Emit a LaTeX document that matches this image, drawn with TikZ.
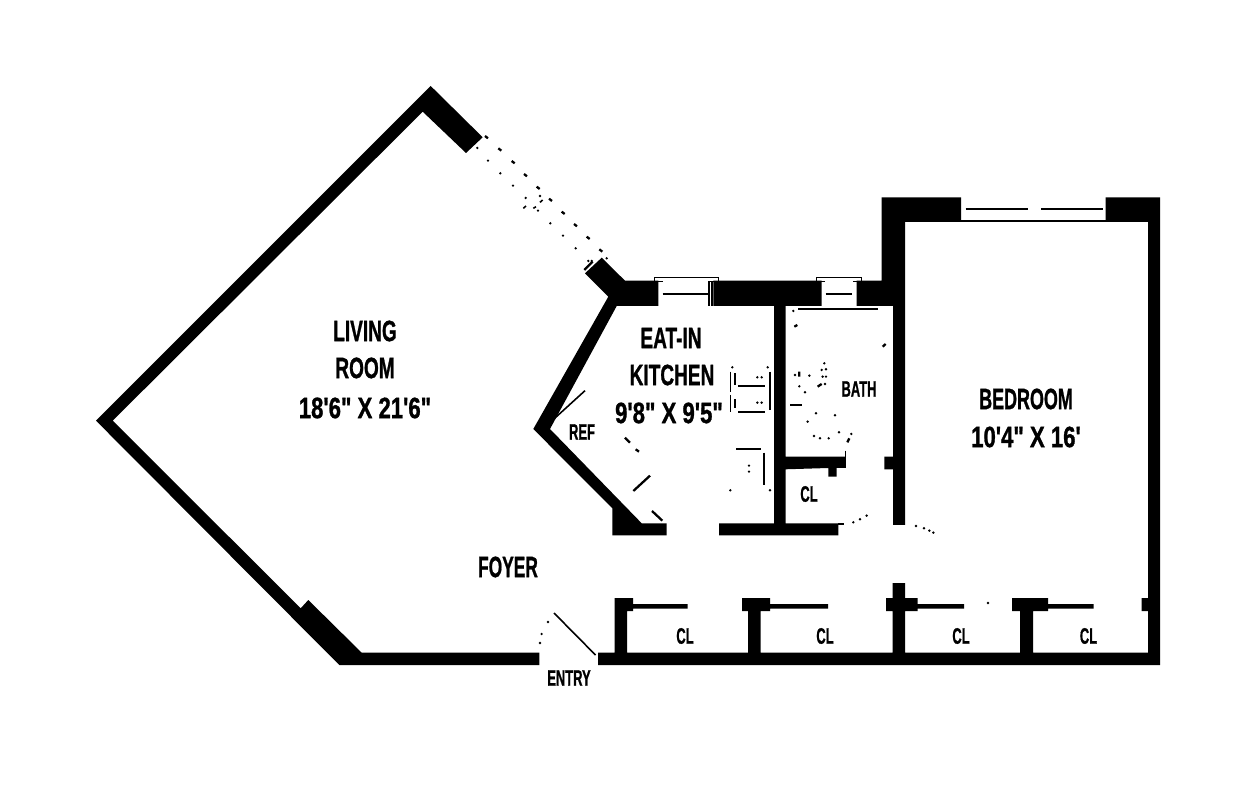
\documentclass[tikz,border=0pt]{standalone}
\usepackage{fontspec}
\newfontfamily\planfont{Liberation Sans}[BoldFeatures={FakeBold=1.2}]
\tikzset{
  wall/.style={fill=black},
  fixture/.style={line width=0.9pt},
  sash/.style={line width=1.3pt},
  roomlabel/.style={font=\planfont\bfseries\fontsize{16.7}{18}\selectfont,inner sep=0pt,xscale=0.65},
  sizelabel/.style={roomlabel,xscale=1.16},
  smalllabel/.style={font=\planfont\bfseries\fontsize{12.7}{14}\selectfont,inner sep=0pt,xscale=0.58}
}
\begin{document}
\begin{tikzpicture}[x=0.02cm,y=-0.02cm]
    \useasboundingbox (0,0) rectangle (1255,800);
    % living room walls
    \fill[wall] (96,420.7) -- (430.7,86) -- (482.7,137.3) -- (466,153) -- (422.7,111.7) -- (112.7,420.7)
        -- (300.7,608.3) -- (308.3,600) -- (361.7,652.7) -- (539.3,652.7) -- (539.3,665) -- (339.3,665) -- cycle;
    % kitchen walls
    \fill[wall] (601.7,257.7) -- (625,280.7) -- (658.3,280.7) -- (658.3,306) -- (616.7,306) -- (550,429)
        -- (641.7,523.3) -- (666.7,523.3) -- (666.7,535.3) -- (612.3,535.3) -- (612.3,508.3) -- (533.3,429)
        -- (608.3,296.7) -- (585,273.3) -- cycle;
    \fill[wall] (713.3,280.7) -- (821.7,280.7) -- (821.7,306) -- (785.7,306) -- (785.7,456.7) -- (845,456.7)
        -- (845,468) -- (836.7,468) -- (836.7,476.7) -- (828.3,476.7) -- (828.3,468) -- (785.7,469.3)
        -- (785.7,523.3) -- (838.3,523.3) -- (838.3,535.3) -- (719,535.3) -- (719,523.3) -- (774,523.3)
        -- (774,306) -- (713.3,306) -- cycle;
    % bedroom walls
    \fill[wall] (881.7,197.3) -- (961,197.3) -- (961,222) -- (905,222) -- (905,525) -- (893,525) -- (893,469.3)
        -- (884.3,469.3) -- (884.3,456.7) -- (893,456.7) -- (893,306) -- (856.7,306) -- (856.7,280.7)
        -- (881.7,280.7) -- cycle;
    \fill[wall] (1105.7,197.3) -- (1160,197.3) -- (1160,665) -- (598,665) -- (598,652.7) -- (614.6,652.7)
        -- (614.6,598) -- (633,598) -- (633,604) -- (687.6,604) -- (687.6,608.7) -- (633,608.7) -- (633,611)
        -- (627,611) -- (627,652.7) -- (748,652.7) -- (748,611) -- (742,611) -- (742,598) -- (770,598)
        -- (770,604) -- (828,604) -- (828,608.7) -- (770,608.7) -- (770,611) -- (760.6,611) -- (760.6,652.7)
        -- (892.6,652.7) -- (892.6,611) -- (886,611) -- (886,598) -- (892.6,598) -- (892.6,583) -- (905,583)
        -- (905,598) -- (917.5,598) -- (917.5,604) -- (964,604) -- (964,608.7) -- (917.5,608.7) -- (917.5,611)
        -- (905,611) -- (905,652.7) -- (1020,652.7) -- (1020,611) -- (1012,611) -- (1012,598) -- (1048,598)
        -- (1048,604) -- (1093.5,604) -- (1093.5,608.7) -- (1048,608.7) -- (1048,611) -- (1033,611)
        -- (1033,652.7) -- (1148,652.7) -- (1148,611) -- (1141.6,611) -- (1141.6,598) -- (1148,598)
        -- (1148,222) -- (1105.7,222) -- cycle;
    % bedroom window
    \draw[fixture] (961,221) -- (1105.7,221);
    \draw[sash] (965.7,208.7) -- (1027.7,208.7);
    \draw[sash] (1041,208.7) -- (1103.3,208.7);
    % entry door
    \draw[fixture] (554,613) -- (595.5,655);
    \foreach \px/\py in {548/622,541.6/634,540/643,988/603}
        \fill (\px,\py) circle (1.3);
    % kitchen, bath
    \begin{scope}[shift={(520,260)},scale=1/3]
        % windows
        \draw[fixture] (428,65) -- (403,65) -- (403,52) -- (595,52) -- (595,65) -- (565,65);
        \draw[sash] (428,102) -- (565,102);
        \draw[fixture] (567,65) -- (567,138);
        \draw[sash] (577,65) -- (577,138);
        \draw[fixture] (915,65) -- (890,65) -- (890,52) -- (1025,52) -- (1025,65) -- (1000,65);
        \draw[sash] (917,102) -- (997,102);
        \draw[sash] (835,147) -- (1073,147);
        % counter
        \draw[fixture] (632,335) -- (632,395) (632,405) -- (632,455);
        \draw[sash] (644,340) -- (644,375) (644,418) -- (644,445);
        \draw[sash] (750,335) -- (750,450);
        \draw[sash] (655,379) -- (735,379) (655,455) -- (735,455);
        \draw[sash] (648,567) -- (722,567) (731,578) -- (731,675);
        % ref
        \draw[fixture] (95,483) -- (195,392);
        \draw[sash] (315,533) -- (330,548) (347,568) -- (357,575) (340,693) -- (390,647) (396,753) -- (427,782);
        % bath
        \draw[sash] (810,435) -- (847,435);
        \draw[fixture] (977,572) -- (977,625) (955,792) -- (972,792);
        \draw[sash] (838,335) -- (838,350) (823,200) -- (832,195) (1088,260) -- (1097,252)
            (893,380) -- (905,372) (982,547) -- (988,535);
        \foreach \px/\py in {637/322,743/322,712/352,725/352,712/428,725/428,687/617,687/635,631/691,750/691,
            820/153,913/310,905/330,918/328,908/350,918/350,825/345,868/347,838/379,855/397,915/372,
            888/460,945/466,863/485,882/528,900/535,926/535,957/517,994/522,
            1000/787,1020/778,1040/767,1188/798,1212/805,1228/812,1240/818}
            \fill (\px,\py) circle (4);
    \end{scope}
    % living room window
    \begin{scope}[shift={(400,80)},scale=1/3]
        \foreach \px/\py in {255/168,295/205,335/243,372/282,410/320,447/356,485/395,522/432,560/470,598/508}
            \draw[sash] (\px,\py) -- ++(9,7);
        \foreach \px/\py in {232/204,264/242,301/280,339/317,377/354,414/392,451/430,489/467,527/505,420/348,565/543,575/543,620/535}
            \fill (\px,\py) circle (4);
        \draw[fixture] (420,367) -- (428,360) (400,385) -- (408,380) (370,385) -- (378,378);
        \draw[sash] (553,570) -- (578,545);
    \end{scope}
    % labels
    \node[roomlabel] (living) at (365,331) {LIVING};
    \node[roomlabel] (room) at (365,368) {ROOM};
    \node[sizelabel] (livingsize) at (365,408) {18'6" X 21'6"};
    \node[roomlabel] (eatin) at (671,338) {EAT-IN};
    \node[roomlabel] (kitchen) at (672,375) {KITCHEN};
    \node[sizelabel] (kitchensize) at (669,413) {9'8" X 9'5"};
    \node[roomlabel,xscale=0.94] (bedroom) at (1026,399) {BEDROOM};
    \node[sizelabel] (bedroomsize) at (1026,437) {10'4" X 16'};
    \node[roomlabel,xscale=0.91] (foyer) at (508,567) {FOYER};
    \node[smalllabel] (ref) at (582,432) {REF};
    \node[smalllabel] (bath) at (859,389) {BATH};
    \node[smalllabel] (clbath) at (809,494) {CL};
    \node[smalllabel] (entry) at (569,678) {ENTRY};
    \node[smalllabel] (clone) at (685,636) {CL};
    \node[smalllabel] (cltwo) at (825,636) {CL};
    \node[smalllabel] (clthree) at (961,636) {CL};
    \node[smalllabel] (clfour) at (1088.5,636) {CL};
\end{tikzpicture}
\end{document}
